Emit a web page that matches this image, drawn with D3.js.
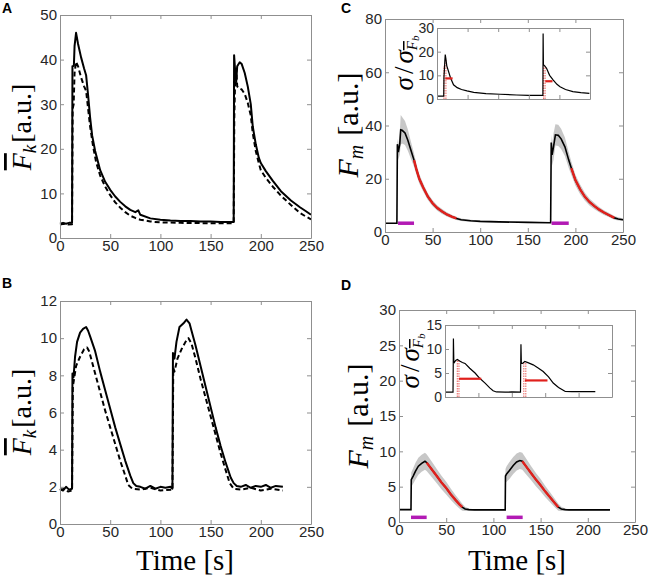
<!DOCTYPE html>
<html>
<head>
<meta charset="utf-8">
<script src="https://cdn.jsdelivr.net/npm/d3@7/dist/d3.min.js"></script>
<style>
  body { margin: 0; background: #fff; }
  svg { display: block; }
</style>
</head>
<body>
<script>
// ---- tick values ----
const timeTicks = [0, 50, 100, 150, 200, 250];
const ticksA = [0, 10, 20, 30, 40, 50];
const ticksB = [0, 2, 4, 6, 8, 10, 12];
const ticksC = [0, 20, 40, 60, 80];
const ticksD = [0, 5, 10, 15, 20, 25, 30];
const ticksCin = [0, 10, 20, 30];
const ticksDin = [0, 5, 10, 15];

// ---- panel A : [time, value] ----
const aSolid = [[0,3.2],[3,3.4],[6,3.2],[9,3.4],[12,3.4],[12.4,38.5],[13.8,38.6],[14.5,43],[16,46],[18,43.5],[21,40.5],[24,38],[26,36.5],[28,32],[30,27],[32,23],[35,19.5],[40,15.2],[45,12.6],[50,10.8],[55,9.3],[60,8.1],[65,7.1],[70,6.3],[75,5.8],[78,6.2],[80,5.2],[90,4.4],[100,4.1],[110,3.9],[120,3.8],[130,3.8],[140,3.7],[150,3.7],[160,3.6],[173,3.6],[173.4,41],[174.3,38],[175.5,35],[176.5,38.5],[179,39.4],[181,39],[184,37],[187,34],[190,30],[192,25],[195,21],[198,18],[200,16.8],[205,15],[212,12.8],[220,10.5],[230,8.4],[239,6.9],[245,6],[250,5.2]];
const aDashed = [[0,3.0],[4,3.2],[8,3.0],[12,3.1],[12.6,29],[13.6,30],[14.5,37],[16,39.5],[18,38.5],[21,36],[24,34],[26,33],[28,29],[30,25],[33,20.5],[36,17],[40,14],[45,11.5],[50,9.6],[55,8],[60,6.8],[65,5.8],[70,5],[75,4.5],[80,4.1],[90,3.7],[100,3.5],[120,3.4],[150,3.3],[173,3.3],[173.6,27],[174.5,36],[175.5,38],[176.5,34],[178,33.6],[181,33.3],[184,32.3],[187,30.3],[190,27.5],[192,23.5],[195,19.5],[198,16.8],[200,15.2],[205,13.5],[212,11.5],[220,9.5],[230,7.4],[239,5.6],[245,4.8],[250,4.2]];

// ---- panel B ----
const bSolid = [[0,1.9],[3,1.8],[6,2.0],[9,1.85],[12,1.9],[12.4,8.1],[13.5,7.9],[15,9.0],[17,9.8],[20,10.3],[23,10.5],[26,10.6],[28,10.4],[30,10.1],[35,9.3],[40,8.2],[45,7.2],[50,6.2],[55,5.2],[60,4.3],[65,3.4],[70,2.6],[73,2.2],[76,2.05],[80,2.0],[85,1.9],[90,2.05],[95,1.9],[100,2.0],[105,1.95],[110,2.0],[112,1.9],[112.5,9.2],[114,8.9],[116,9.8],[119,10.6],[123,10.8],[126,11.0],[129,10.8],[131,10.4],[135,9.6],[140,8.5],[145,7.4],[150,6.3],[155,5.2],[160,4.2],[165,3.3],[170,2.5],[173,2.2],[176,2.05],[180,2.0],[185,2.1],[190,1.95],[195,2.05],[200,2.0],[205,2.1],[210,1.95],[215,2.05],[222,2.0]];
const bDashed = [[0,1.8],[4,1.9],[8,1.75],[12,1.8],[12.8,7.4],[14,7.8],[16,8.5],[20,9.0],[24,9.4],[27,9.5],[29,9.3],[31,8.9],[35,8.1],[40,7.1],[45,6.1],[50,5.2],[55,4.3],[60,3.4],[65,2.6],[68,2.1],[72,1.9],[80,1.85],[90,1.95],[100,1.8],[112,1.85],[112.8,8.4],[114,8.2],[117,8.9],[121,9.4],[125,9.8],[128,10.0],[131,9.7],[135,8.9],[140,7.8],[145,6.8],[150,5.8],[155,4.8],[160,3.8],[165,2.9],[169,2.2],[173,1.9],[180,1.85],[190,1.95],[200,1.8],[210,1.9],[222,1.8]];

// ---- panel C : [time, mean, half band] ----
const cMean = [[0,3.3,0.2],[12.5,3.3,0.2],[13,33,2],[14,30,3],[15.5,33,4],[16.5,38.4,5.5],[18,38.2,5],[21,37.2,4.5],[24,34.5,4],[27,31,3.3],[30.5,27,2.5],[33,23.5,2],[36,20,1.8],[40,16.8,1.5],[45,13.3,1.3],[50,10.8,1.1],[55,9,1],[60,7.7,0.9],[65,6.6,0.8],[70,5.8,0.7],[75,5.1,0.6],[80,4.6,0.5],[90,4.2,0.4],[100,4.0,0.3],[120,3.8,0.3],[150,3.6,0.25],[174,3.5,0.2],[174.6,33.6,3],[175.5,29,4],[177,32,5],[179,36.5,4],[182,36.3,4],[185,35,3.8],[189,32,3.5],[193,27,3],[195.7,24,2.5],[200,19.5,2],[205,16,1.8],[210,13.2,1.5],[215,11.2,1.3],[220,9.7,1.2],[225,8.4,1],[230,7.3,0.9],[235,6.4,0.8],[241,5.3,0.7],[245,4.9,0.6],[250,4.6,0.5]];
const cFit = [[30.5,75],[195.7,241]];
const cStim = [[13.7,30.5],[175,193]];
const cStimLevel = 3.3;
const cSigma = [[0,1.2],[11,1.2],[11.4,9.5],[12,12],[12.8,16],[13.5,18.8],[14.5,17],[16,14],[19,11.5],[22,9],[27,6],[33,4.8],[40,4],[49,3.4],[60,2.8],[80,2.3],[103,2.0],[130,1.7],[150,1.5],[173,1.5],[173.4,27.7],[173.9,14.5],[176,14],[179,13],[184,10],[190,8],[196,6.2],[201,5.2],[210,4],[222,3.1],[235,2.7],[249,2.4]];
const cHalf = [[13.5,25.5,8.7],[177,188.7,7.5]];
const cDrop = [[11.4,14],[14.6,17],[174.2,14],[176.6,14]];

// ---- panel D ----
const dMean = [[0,1.75,0.1],[12.7,1.75,0.1],[13,6.0,1.0],[15,6.5,1.1],[17.5,7.2,1.2],[20.5,7.9,1.2],[24,8.3,1.2],[27.5,8.6,1.2],[29.3,8.4,1.2],[35,7.4,1.1],[40,6.5,1.0],[45,5.6,0.95],[50,4.8,0.9],[55,3.9,0.8],[60,3.1,0.7],[64,2.5,0.6],[67,2.1,0.5],[70,1.85,0.3],[74,1.75,0.15],[80,1.72,0.1],[112.5,1.72,0.1],[112.8,6.5,1.0],[114,6.8,1.1],[117,7.3,1.2],[121,8.0,1.2],[124.6,8.5,1.2],[128,8.7,1.2],[130.6,8.6,1.2],[135,7.8,1.1],[140,6.9,1.0],[145,6.0,0.95],[150,5.2,0.9],[155,4.3,0.8],[160,3.5,0.7],[165,2.7,0.6],[168.8,2.1,0.5],[172,1.85,0.3],[176,1.75,0.15],[180,1.72,0.1],[223.5,1.72,0.1]];
const dFit = [[29.3,67],[130.6,168.8]];
const dStim = [[12.7,29.3],[114,131]];
const dStimLevel = 0.66;
const dSigma = [[0,1.0],[12,1.0],[12.3,6],[12.6,12.2],[13.2,7.5],[14,7.2],[16,7.6],[18.5,7.8],[22,7.5],[26,7.2],[30,7.0],[37,6.0],[45,5.0],[52,3.9],[60,2.9],[67,1.9],[72,1.3],[77,1.05],[90,1.0],[100,1.05],[113,1.0],[113.3,6],[113.7,11],[114.3,7],[116,7.0],[119.5,7.4],[125,7.1],[132,6.7],[140,6.0],[147,5.3],[155,4.2],[162,2.9],[170,2.0],[177,1.4],[180,1.15],[190,1.1],[200,1.15],[210,1.1],[225,1.1]];
const dHalf = [[21,54.3,3.8],[119.5,153.4,3.45]];
const dDrop = [[18.4,7.7],[20.9,7.7],[118,7.3],[121,7.3]];

const RED = "#e0201c", MAG = "#b21ab4", BAND = "#bdbdbd";
const SANS = "'Liberation Sans', Arial, sans-serif";
const SERIF = "'Liberation Serif', 'Times New Roman', serif";

const svg = d3.select("body").append("svg").attr("width", 649).attr("height", 576);

function makeScales(box, xDom, yDom) {
  return {
    x: d3.scaleLinear().domain(xDom).range([box.x0, box.x1]),
    y: d3.scaleLinear().domain(yDom).range([box.y1, box.y0])
  };
}

function background(box) {
  svg.append("rect").attr("x", box.x0).attr("y", box.y0)
    .attr("width", box.x1 - box.x0).attr("height", box.y1 - box.y0)
    .attr("fill", "#fff");
}

function frame(s, xTicks, yTicks, showX, fs) {
  const [x0, x1] = s.x.range();
  const [yb, yt] = s.y.range();
  const g = svg.append("g");
  const bottom = d3.axisBottom(s.x).tickValues(xTicks).tickSizeInner(-4).tickSizeOuter(0).tickPadding(2);
  if (!showX) bottom.tickFormat("");
  g.append("g").attr("transform", `translate(0,${yb})`).call(bottom);
  g.append("g").attr("transform", `translate(0,${yt})`)
    .call(d3.axisTop(s.x).tickValues(xTicks).tickSizeInner(-4).tickSizeOuter(0).tickFormat(""));
  g.append("g").attr("transform", `translate(${x0},0)`)
    .call(d3.axisLeft(s.y).tickValues(yTicks).tickSizeInner(-4).tickSizeOuter(0).tickPadding(3));
  g.append("g").attr("transform", `translate(${x1},0)`)
    .call(d3.axisRight(s.y).tickValues(yTicks).tickSizeInner(-4).tickSizeOuter(0).tickFormat(""));
  g.selectAll(".domain, .tick line").attr("stroke", "#8f8f8f").attr("stroke-width", 1);
  g.selectAll("text").attr("fill", "#262626")
    .style("font-family", SANS).style("font-size", fs + "px");
}

function lineOf(s) {
  return d3.line().x(d => s.x(d[0])).y(d => s.y(d[1]));
}

function traceLine(s, data, dash) {
  svg.append("path").datum(data).attr("d", lineOf(s))
    .attr("fill", "none").attr("stroke", "#000").attr("stroke-width", 2)
    .attr("stroke-dasharray", dash || null).attr("stroke-linejoin", "round");
}

function meanWithBand(s, data, fits, stim, level) {
  const area = d3.area().x(d => s.x(d[0])).y0(d => s.y(d[1] - d[2])).y1(d => s.y(d[1] + d[2]));
  svg.append("path").datum(data).attr("d", area).attr("fill", BAND).attr("opacity", 0.85);
  svg.append("path").datum(data).attr("d", lineOf(s))
    .attr("fill", "none").attr("stroke", "#000").attr("stroke-width", 1.6);
  fits.forEach(([a, b]) => {
    svg.append("path").datum(data.filter(d => d[0] >= a && d[0] <= b)).attr("d", lineOf(s))
      .attr("fill", "none").attr("stroke", RED).attr("stroke-width", 2.4);
  });
  stim.forEach(([a, b]) => {
    svg.append("line").attr("x1", s.x(a)).attr("x2", s.x(b)).attr("y1", s.y(level)).attr("y2", s.y(level))
      .attr("stroke", MAG).attr("stroke-width", 3.5);
  });
}

function sigmaInset(s, data, half, drop) {
  drop.forEach(([t, h]) => {
    svg.append("line").attr("x1", s.x(t)).attr("x2", s.x(t)).attr("y1", s.y(0)).attr("y2", s.y(h))
      .attr("stroke", RED).attr("stroke-width", 1).attr("stroke-dasharray", "1.5,1").attr("opacity", 0.7);
  });
  svg.append("path").datum(data).attr("d", lineOf(s))
    .attr("fill", "none").attr("stroke", "#000").attr("stroke-width", 1.2);
  half.forEach(([a, b, v]) => {
    svg.append("line").attr("x1", s.x(a)).attr("x2", s.x(b)).attr("y1", s.y(v)).attr("y2", s.y(v))
      .attr("stroke", RED).attr("stroke-width", 2.2);
  });
}

function panelLetter(txt, x, y) {
  svg.append("text").attr("x", x).attr("y", y).text(txt)
    .style("font-family", SANS).style("font-weight", "bold").style("font-size", "14px");
}

function rotText(cx, cy, fs) {
  return svg.append("text").attr("transform", `translate(${cx},${cy}) rotate(-90)`)
    .attr("text-anchor", "middle").style("font-family", SERIF).style("font-size", fs + "px");
}

function yLabelFk(cx, cy) {
  const t = rotText(cx, cy, 28);
  t.append("tspan").text("F").style("font-style", "italic").style("text-decoration", "overline");
  t.append("tspan").text("k").style("font-style", "italic").style("font-size", "19px").attr("dy", 5);
  t.append("tspan").text("[a.u.]").attr("dy", -5).attr("dx", 2);
}

function yLabelFm(cx, cy) {
  const t = rotText(cx, cy, 30);
  t.append("tspan").text("F").style("font-style", "italic");
  t.append("tspan").text("m").style("font-style", "italic").style("font-size", "20px").attr("dy", 5);
  t.append("tspan").text("[a.u.]").attr("dy", -5).attr("dx", 9);
}

function yLabelSigma(cx, cy) {
  const t = rotText(cx, cy, 27);
  t.append("tspan").text("σ").style("font-style", "italic");
  t.append("tspan").text("/").attr("dx", 3);
  t.append("tspan").text("σ").style("font-style", "italic").attr("dx", 3);
  t.append("tspan").text("F").style("font-style", "italic").style("font-size", "15px")
    .style("text-decoration", "overline").attr("dy", 4);
  t.append("tspan").text("b").style("font-style", "italic").style("font-size", "11px").attr("dy", 2);
}

function timeLabel(cx, y) {
  svg.append("text").attr("x", cx).attr("y", y).attr("text-anchor", "middle")
    .style("font-family", SERIF).style("font-size", "29px").text("Time [s]");
}

// ---- Panel A ----
const boxA = { x0: 60, x1: 311, y0: 15, y1: 238 };
const sA = makeScales(boxA, [0, 250], [0, 50]);
background(boxA);
traceLine(sA, aDashed, "5,3");
traceLine(sA, aSolid);
frame(sA, timeTicks, ticksA, true, 15);
yLabelFk(31, 127);
panelLetter("A", 2, 13);

// ---- Panel B ----
const boxB = { x0: 60, x1: 311, y0: 301, y1: 524 };
const sB = makeScales(boxB, [0, 250], [0, 12]);
background(boxB);
traceLine(sB, bDashed, "5,3");
traceLine(sB, bSolid);
frame(sB, timeTicks, ticksB, true, 15);
yLabelFk(31, 412);
timeLabel(185, 570);
panelLetter("B", 2, 288);

// ---- Panel C ----
const boxC = { x0: 385, x1: 623, y0: 19, y1: 232 };
const sC = makeScales(boxC, [0, 250], [0, 80]);
background(boxC);
meanWithBand(sC, cMean, cFit, cStim, cStimLevel);
frame(sC, timeTicks, ticksC, true, 15);
yLabelFm(358, 125);
panelLetter("C", 341, 13);

const boxCin = { x0: 437, x1: 590, y0: 28, y1: 99 };
const sCin = makeScales(boxCin, [0, 250], [0, 30]);
background(boxCin);
sigmaInset(sCin, cSigma, cHalf, cDrop);
frame(sCin, timeTicks, ticksCin, false, 14);
yLabelSigma(413, 63);

// ---- Panel D ----
const boxD = { x0: 399, x1: 635, y0: 310, y1: 522 };
const sD = makeScales(boxD, [0, 250], [0, 30]);
background(boxD);
meanWithBand(sD, dMean, dFit, dStim, dStimLevel);
frame(sD, timeTicks, ticksD, true, 15);
yLabelFm(368, 416);
timeLabel(517, 570);
panelLetter("D", 341, 290);

const boxDin = { x0: 445, x1: 612, y0: 325, y1: 397 };
const sDin = makeScales(boxDin, [0, 250], [0, 15]);
background(boxDin);
sigmaInset(sDin, dSigma, dHalf, dDrop);
frame(sDin, timeTicks, ticksDin, false, 14);
yLabelSigma(419, 361);
</script>
</body>
</html>
